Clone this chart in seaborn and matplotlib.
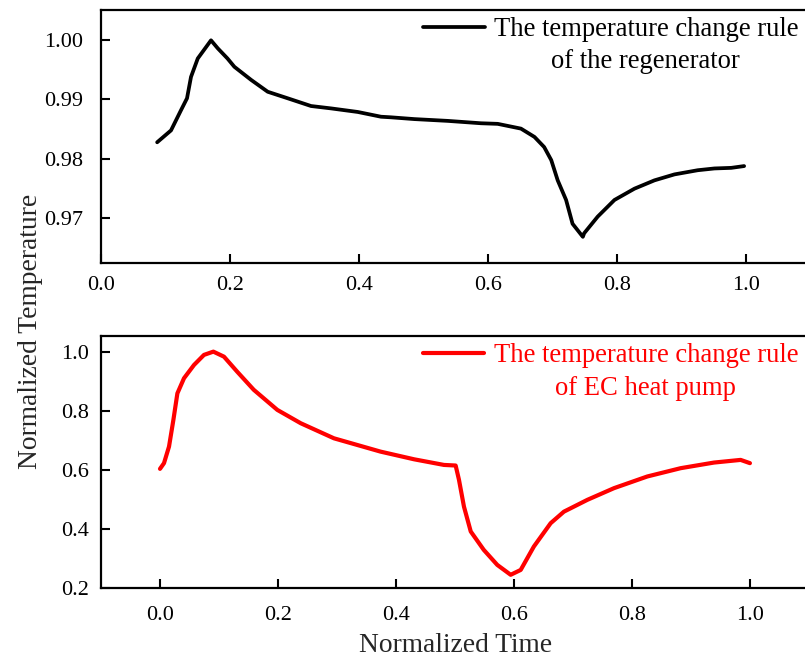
import numpy as np
import pandas as pd
import matplotlib
matplotlib.use("Agg")
import matplotlib.pyplot as plt
import seaborn as sns

# Regenerator curve (top)
regen_time = [0.087, 0.1085, 0.124, 0.1333, 0.1395, 0.150, 0.1705, 0.181, 0.196, 0.2067,
              0.2326, 0.2584, 0.2894, 0.3256, 0.3566, 0.398, 0.434, 0.4496, 0.4858, 0.5375,
              0.589, 0.615, 0.651, 0.672, 0.687, 0.698, 0.708, 0.721, 0.731, 0.747,
              0.749, 0.770, 0.796, 0.827, 0.858, 0.889, 0.925, 0.951, 0.977, 0.997]
regen_temp = [0.9828, 0.9848, 0.9882, 0.9902, 0.9938, 0.9969, 0.99995, 0.9986, 0.9969, 0.9955,
              0.9933, 0.9913, 0.9902, 0.9889, 0.9885, 0.9879, 0.9871, 0.9870, 0.9867, 0.9864,
              0.9860, 0.9859, 0.9851, 0.9837, 0.9820, 0.9798, 0.9764, 0.9731, 0.9691, 0.9669,
              0.9675, 0.9703, 0.9731, 0.9750, 0.9764, 0.9774, 0.9781, 0.9784, 0.9785, 0.9788]

# EC heat pump curve (bottom)
ec_time = [0.0, 0.0068, 0.0153, 0.0227, 0.0295, 0.0407, 0.0577, 0.0746, 0.0905, 0.1085,
           0.131, 0.159, 0.199, 0.2386, 0.295, 0.374, 0.431, 0.4816, 0.5014, 0.507,
           0.5155, 0.527, 0.549, 0.572, 0.5947, 0.6117, 0.634, 0.6625, 0.685, 0.7248,
           0.770, 0.8265, 0.883, 0.9395, 0.9847, 1.0005]
ec_temp = [0.6037, 0.623, 0.679, 0.769, 0.859, 0.910, 0.955, 0.989, 1.0, 0.983,
           0.932, 0.871, 0.803, 0.758, 0.707, 0.662, 0.636, 0.617, 0.615, 0.567,
           0.476, 0.392, 0.330, 0.279, 0.2456, 0.262, 0.341, 0.420, 0.459, 0.499,
           0.5385, 0.578, 0.606, 0.625, 0.634, 0.623]

top_xticks = [0.0, 0.2, 0.4, 0.6, 0.8, 1.0]
top_yticks = [0.97, 0.98, 0.99, 1.00]
bot_xticks = [0.0, 0.2, 0.4, 0.6, 0.8, 1.0]
bot_yticks = [0.2, 0.4, 0.6, 0.8, 1.0]

legend_top = ["The temperature change rule", "of the regenerator"]
legend_bot = ["The temperature change rule", "of EC heat pump"]

sns.set_style("ticks")
plt.rcParams['font.family'] = ['Liberation Serif', 'DejaVu Serif']

fig = plt.figure(figsize=(8.05, 6.57), dpi=100)
ax1 = fig.add_axes([0.1255, 0.5997, 0.8814, 0.3851])
ax2 = fig.add_axes([0.1255, 0.1046, 0.879, 0.3845])

df1 = pd.DataFrame({"t": regen_time, "T": regen_temp})
df2 = pd.DataFrame({"t": ec_time, "T": ec_temp})

sns.lineplot(data=df1, x="t", y="T", ax=ax1, color="black", linewidth=2.7,
             label=legend_top[0], sort=False)
sns.lineplot(data=df2, x="t", y="T", ax=ax2, color="red", linewidth=3.0,
             label=legend_bot[0], sort=False)

ax1.set_xlim(0.0, 1.1)
ax1.set_ylim(0.9625, 1.00505)
ax2.set_xlim(-0.1, 1.1)
ax2.set_ylim(0.2, 1.054)

ax1.set_xticks(top_xticks)
ax1.set_xticklabels([f"{v:.1f}" for v in top_xticks])
ax1.set_yticks(top_yticks)
ax1.set_yticklabels([f"{v:.2f}" for v in top_yticks])
ax2.set_xticks(bot_xticks)
ax2.set_xticklabels([f"{v:.1f}" for v in bot_xticks])
ax2.set_yticks(bot_yticks)
ax2.set_yticklabels([f"{v:.1f}" for v in bot_yticks])

for ax in (ax1, ax2):
    ax.set_xlabel("")
    ax.set_ylabel("")
    for s in ax.spines.values():
        s.set_linewidth(1.6)
        s.set_color("black")
    ax.tick_params(direction="in", length=6.5, width=1.5, labelsize=16,
                   colors="black")
ax1.tick_params(axis="x", pad=9.5)
ax1.tick_params(axis="y", pad=13)
ax2.tick_params(axis="x", pad=12.5)
ax2.tick_params(axis="y", pad=8.5)

def add_legend(ax, lines, color, anchor, gap):
    leg = ax.legend(loc="center right", frameon=False, fontsize=19.2,
                    handlelength=2.3, handletextpad=0.34, borderaxespad=0.0,
                    borderpad=0.0, bbox_to_anchor=anchor)
    txt = leg.get_texts()[0]
    txt.set_color(color)
    ax.annotate(lines[1], xy=(0.5, 0.0), xycoords=txt, xytext=(0, -gap),
                textcoords="offset points", ha="center", va="top",
                fontsize=19.2, color=color, zorder=10, annotation_clip=False)
    return leg

add_legend(ax1, legend_top, "black", (0.9824, 0.921), 4.8)
add_legend(ax2, legend_bot, "red", (0.985, 0.920), 5.8)

fig.text(0.038, 0.496, "Normalized Temperature", rotation=90, va="center", ha="center",
         fontsize=19.8)
fig.text(0.5655, 0.0076, "Normalized Time", va="baseline", ha="center", fontsize=19.8)

fig.savefig("out.png", dpi=100)
